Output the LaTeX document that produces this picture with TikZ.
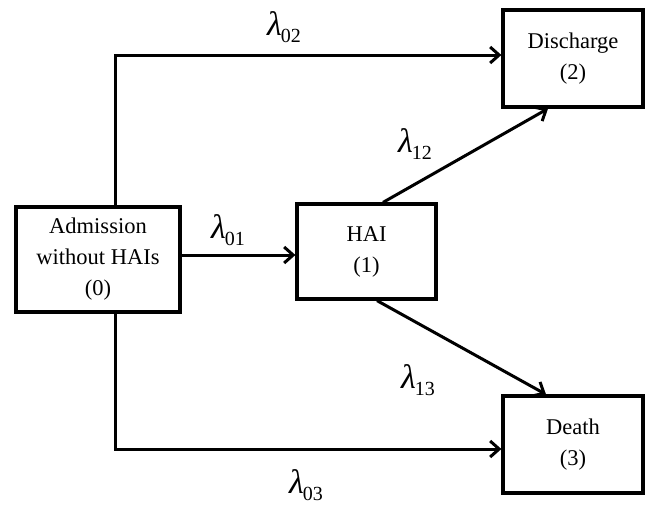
\documentclass[tikz,border=0pt]{standalone}
\usepackage{fontspec}
\setmainfont{Liberation Serif}
\usetikzlibrary{arrows.meta}
\newcommand{\lam}[1]{{\fontsize{34}{34}\selectfont\itshape λ}\kern-1pt\raisebox{-7pt}{\fontsize{20}{20}\selectfont #1}}
\tikzset{
  state/.style={draw, line width=3.2pt, rectangle, align=center, inner sep=0pt,
    font=\fontsize{22.5}{31}\selectfont},
  arr/.style={line width=3pt, -{Straight Barb[length=9pt,width=16pt,line width=3pt]}},
  rate/.style={inner sep=0pt}
}
\begin{document}
\begin{tikzpicture}[x=1pt,y=-1pt]
\useasboundingbox (0,0) rectangle (647,504);
\node[state, minimum width=164pt, minimum height=105pt] (adm) at (98,259.5) {Admission\\without HAIs\\(0)};
\node[state, minimum width=139pt, minimum height=95pt] (hai) at (366.5,251.5) {HAI\\(1)};
\node[state, minimum width=140pt, minimum height=97pt] (dis) at (573,58.5) {Discharge\\(2)};
\node[state, minimum width=140pt, minimum height=97pt] (dea) at (573,444.5) {Death\\(3)};
\draw[arr] ([xshift=17pt]adm.north) |- ([yshift=3.5pt]dis.west);
\draw[arr] ([yshift=4.5pt]adm.east) -- ([yshift=-3.5pt]hai.west);
\draw[arr] ([xshift=17pt]adm.south) |- ([yshift=-4.5pt]dea.west);
\draw[arr] ([xshift=16.5pt]hai.north) -- ([xshift=-25pt]dis.south);
\draw[arr] ([xshift=10.5pt]hai.south) -- ([xshift=-27pt]dea.north);
\node[rate] (l02) at (284,27) {\lam{02}};
\node[rate] (l01) at (228,230) {\lam{01}};
\node[rate] (l12) at (415,144) {\lam{12}};
\node[rate] (l13) at (418,380) {\lam{13}};
\node[rate] (l03) at (306,485) {\lam{03}};
\end{tikzpicture}
\end{document}
